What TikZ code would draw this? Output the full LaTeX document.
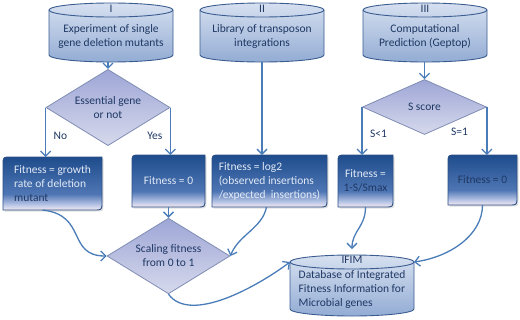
\documentclass[tikz,border=0pt]{standalone}
\usepackage{fontspec}
\setmainfont{Carlito}
\usetikzlibrary{arrows.meta,shapes.geometric,backgrounds,shadows}

\definecolor{flowline}{HTML}{4A7DB8}
\definecolor{navytext}{HTML}{1F3864}
\definecolor{paletext}{HTML}{E2EAF7}
\definecolor{dbline}{HTML}{3A5C90}
\definecolor{dbtop}{HTML}{D6E0F0}
\definecolor{dbbot}{HTML}{93ACD4}
\definecolor{dmline}{HTML}{7F8DB3}
\definecolor{dmtop}{HTML}{9EA6D6}
\definecolor{dmbot}{HTML}{D6D9EC}
\definecolor{boxline}{HTML}{2B4F86}
\definecolor{boxtop}{HTML}{1E4C8C}
\definecolor{boxmid}{HTML}{4F76B4}
\definecolor{boxlow}{HTML}{B9C6E6}
\definecolor{boxbot}{HTML}{F6EAF0}
\pgfdeclareverticalshading{fitshade}{100bp}{color(0bp)=(boxbot); color(25bp)=(boxbot);
  color(30bp)=(boxlow); color(40bp)=(boxmid); color(75bp)=(boxtop); color(100bp)=(boxtop)}

\begin{document}
\begin{tikzpicture}[x=1pt,y=-1pt,
    font=\fontsize{11.5}{14}\selectfont,
    db/.style={inner sep=0pt, outer sep=0pt, minimum width=124pt, minimum height=52pt,
      align=center, text=navytext},
    dbshape/.style={draw=dbline, line width=0.9pt, top color=dbtop, bottom color=dbbot},
    dbnum/.style={inner sep=0pt, text=navytext},
    decision/.style={diamond, draw=dmline, line width=0.8pt, top color=dmtop,
      bottom color=dmbot, minimum width=124pt, minimum height=55pt, inner sep=-3pt,
      align=center, text=navytext},
    fitbox/.style={inner sep=3pt, outer sep=0pt, text=paletext, align=center},
    fitshape/.style={draw=boxline, line width=0.9pt, shading=fitshade,
      drop shadow={opacity=0.25, shadow xshift=1.5pt, shadow yshift=-1.5pt}},
    flow/.style={draw=flowline, line width=1.3pt,
      -{Straight Barb[length=5pt,width=10pt]}},
    branch/.style={text=navytext},
  ]
  \useasboundingbox (0,0) rectangle (520,319);

  % sources
  \node[db] (expI) at (111,36) {Experiment of single\\gene deletion mutants};
  \node[db] (expII) at (262,36) {Library of transposon\\integrations};
  \node[db] (expIII) at (425,36) {Computational\\Prediction (Geptop)};
  \node[dbnum] (numI) at ([yshift=1pt]expI.north) {I};
  \node[dbnum] (numII) at ([yshift=1pt]expII.north) {II};
  \node[dbnum] (numIII) at ([yshift=1pt]expIII.north) {III};

  % decisions
  \node[decision] (essential) at (108,107.5) {Essential gene\\or not};
  \node[decision] (sScore) at (424.5,107) {S score};
  \node[decision, minimum width=123pt, minimum height=54pt] (scaling) at (168.5,256)
    {Scaling fitness\\from 0 to 1};

  % fitness boxes
  \node[fitbox, minimum width=99pt, minimum height=53pt, align=left] (fitGrowth)
    at (52.5,183.5) {Fitness = growth\\rate of deletion\\\textcolor{navytext}{mutant}};
  \node[fitbox, minimum width=73pt, minimum height=52pt] (fitZeroA) at (168.5,181)
    {Fitness = 0};
  \node[fitbox, minimum width=115pt, minimum height=52pt, align=left] (fitLog)
    at (269.5,181) {Fitness = log2\\(observed insertions\\/expected~ insertions)};
  \node[fitbox, minimum width=55pt, minimum height=52pt] (fitScore) at (365.5,181)
    {Fitness =\\\textcolor{navytext}{1-S/Smax}};
  \node[fitbox, minimum width=69pt, minimum height=50pt, text=navytext] (fitZeroB)
    at (482.5,180) {Fitness = 0};

  % database
  \node[db, minimum height=54pt, align=left] (ifim) at (352,289)
    {Database of Integrated\\Fitness Information for\\Microbial genes};
  \node[dbnum] (numIfim) at ([yshift=2pt]ifim.north) {IFIM};

  \begin{scope}[on background layer]
    \foreach \c in {expI,expII,expIII,ifim} {
      \draw[dbshape] (\c.north west) -- ([yshift=7pt]\c.south west)
        arc[start angle=180, end angle=360, x radius=62pt, y radius=7pt]
        -- (\c.north east)
        arc[start angle=0, end angle=180, x radius=62pt, y radius=7pt] -- cycle;
      \draw[draw=dbline, line width=0.9pt] (\c.north west)
        arc[start angle=180, end angle=360, x radius=62pt, y radius=7pt];
    }
    \foreach \b in {fitGrowth,fitZeroA,fitLog,fitScore,fitZeroB}
      \draw[fitshape] (\b.south west) -- ([yshift=-8pt]\b.north west)
        .. controls (\b.north west) .. ([xshift=8pt]\b.north west) -- (\b.north east)
        -- ([yshift=8pt]\b.south east) .. controls (\b.south east)
        .. ([xshift=-8pt]\b.south east) -- cycle;
  \end{scope}

  % connectors
  \draw[flow] (essential.north |- expI.south) -- (essential.north);
  \draw[flow] (essential.west) -- (essential.west |- fitGrowth.north)
    node[branch, pos=0.58, right, xshift=4pt] {No};
  \draw[flow] (essential.east) -- (essential.east |- fitZeroA.north)
    node[branch, pos=0.6, left, xshift=-4pt] {Yes};
  \draw[flow] (expII.south) -- (expII.south |- fitLog.north);
  \draw[flow] (sScore.north |- expIII.south) -- (sScore.north);
  \draw[flow] (sScore.west) -- (sScore.west |- fitScore.north)
    node[branch, pos=0.56, right, xshift=4pt] {S<1};
  \draw[flow] (sScore.east) -- (sScore.east |- fitZeroB.north)
    node[branch, pos=0.52, left, xshift=-15pt] {S=1};
  \draw[flow] (scaling.north |- fitZeroA.south) -- (scaling.north);
  \draw[flow] ([xshift=-10pt]fitGrowth.south) .. controls +(45,5) and +(-40,0)
    .. (scaling.west);
  \draw[flow] ([xshift=-3pt]fitLog.south) .. controls +(-4,21) and +(8,-21)
    .. (scaling.east);
  \draw[flow] (scaling.south) .. controls +(22,30) and +(-32,24) .. (ifim.north west);
  \draw[flow] (fitScore.south) .. controls +(0,20) and +(0,-18)
    .. ([yshift=13pt]ifim.north);
  \draw[flow] (fitZeroB.south) .. controls +(0,30) and +(36,-5) .. (ifim.north east);
\end{tikzpicture}
\end{document}
